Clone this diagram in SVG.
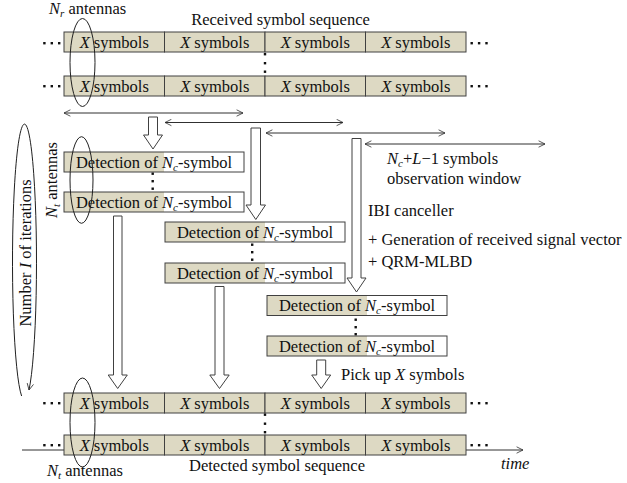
<svg xmlns="http://www.w3.org/2000/svg" width="627" height="483" viewBox="0 0 627 483">
<style>
text{font-family:"Liberation Serif","Times New Roman",serif;font-size:16.5px;fill:#111}
.it{font-style:italic}
.sub{font-size:11px;font-style:italic}
.cell{fill:#DDD9C3;stroke:#404040;stroke-width:1}
.wbox{fill:#fff;stroke:none}
.tan{fill:#DDD9C3;stroke:none}
.brd{fill:none;stroke:#404040;stroke-width:1}
.blk{fill:#fff;stroke:#404040;stroke-width:1}
.thin{fill:none;stroke:#303030;stroke-width:1}
.dot{fill:#111}
.ell{fill:none;stroke:#202020;stroke-width:1}
</style>
<defs>
<marker id="ah" viewBox="0 0 10 10" refX="9" refY="5" markerWidth="8" markerHeight="8" orient="auto-start-reverse" markerUnits="userSpaceOnUse">
<path d="M1,1 L9,5 L1,9" fill="none" stroke="#303030" stroke-width="1"/>
</marker>
</defs>

<g id="time-axis">
<line class="thin" x1="22" y1="450" x2="523" y2="450" marker-end="url(#ah)"/>
<text class="it" x="501" y="469">time</text>
</g>

<g id="received-sequence">
<text x="280.5" y="24.5" text-anchor="middle">Received symbol sequence</text>
<g id="rx-row1">
<rect class="cell" x="64" y="32" width="100.5" height="20"/>
<rect class="cell" x="164.5" y="32" width="100.5" height="20"/>
<rect class="cell" x="265" y="32" width="100.5" height="20"/>
<rect class="cell" x="365.5" y="32" width="100.5" height="20"/>
<text x="114.25" y="47.5" text-anchor="middle"><tspan class="it">X</tspan> symbols</text>
<text x="214.75" y="47.5" text-anchor="middle"><tspan class="it">X</tspan> symbols</text>
<text x="315.25" y="47.5" text-anchor="middle"><tspan class="it">X</tspan> symbols</text>
<text x="415.75" y="47.5" text-anchor="middle"><tspan class="it">X</tspan> symbols</text>
</g>
<g id="rx-row2">
<rect class="cell" x="64" y="76" width="100.5" height="20"/>
<rect class="cell" x="164.5" y="76" width="100.5" height="20"/>
<rect class="cell" x="265" y="76" width="100.5" height="20"/>
<rect class="cell" x="365.5" y="76" width="100.5" height="20"/>
<text x="114.25" y="91.5" text-anchor="middle"><tspan class="it">X</tspan> symbols</text>
<text x="214.75" y="91.5" text-anchor="middle"><tspan class="it">X</tspan> symbols</text>
<text x="315.25" y="91.5" text-anchor="middle"><tspan class="it">X</tspan> symbols</text>
<text x="415.75" y="91.5" text-anchor="middle"><tspan class="it">X</tspan> symbols</text>
</g>
<g id="rx-dots">
<rect class="dot" x="43.2" y="42" width="2.4" height="2.4"/><rect class="dot" x="50.6" y="42" width="2.4" height="2.4"/><rect class="dot" x="58" y="42" width="2.4" height="2.4"/>
<rect class="dot" x="43.2" y="85" width="2.4" height="2.4"/><rect class="dot" x="50.6" y="85" width="2.4" height="2.4"/><rect class="dot" x="58" y="85" width="2.4" height="2.4"/>
<rect class="dot" x="470.5" y="42" width="2.4" height="2.4"/><rect class="dot" x="477.9" y="42" width="2.4" height="2.4"/><rect class="dot" x="485.3" y="42" width="2.4" height="2.4"/>
<rect class="dot" x="470.5" y="85" width="2.4" height="2.4"/><rect class="dot" x="477.9" y="85" width="2.4" height="2.4"/><rect class="dot" x="485.3" y="85" width="2.4" height="2.4"/>
<rect class="dot" x="263.8" y="53" width="2.4" height="2.4"/><rect class="dot" x="263.8" y="62" width="2.4" height="2.4"/><rect class="dot" x="263.8" y="70.5" width="2.4" height="2.4"/>
</g>
<ellipse class="ell" cx="82.5" cy="62.5" rx="12.5" ry="44"/>
<text x="49" y="14"><tspan class="it">N</tspan><tspan class="sub" dy="3">r</tspan><tspan dy="-3"> antennas</tspan></text>
</g>

<g id="detected-sequence">
<g id="tx-row1">
<rect class="cell" x="64" y="393" width="100.5" height="20"/>
<rect class="cell" x="164.5" y="393" width="100.5" height="20"/>
<rect class="cell" x="265" y="393" width="100.5" height="20"/>
<rect class="cell" x="365.5" y="393" width="100.5" height="20"/>
<text x="114.25" y="408.5" text-anchor="middle"><tspan class="it">X</tspan> symbols</text>
<text x="214.75" y="408.5" text-anchor="middle"><tspan class="it">X</tspan> symbols</text>
<text x="315.25" y="408.5" text-anchor="middle"><tspan class="it">X</tspan> symbols</text>
<text x="415.75" y="408.5" text-anchor="middle"><tspan class="it">X</tspan> symbols</text>
</g>
<g id="tx-row2">
<rect class="cell" x="64" y="435" width="100.5" height="20"/>
<rect class="cell" x="164.5" y="435" width="100.5" height="20"/>
<rect class="cell" x="265" y="435" width="100.5" height="20"/>
<rect class="cell" x="365.5" y="435" width="100.5" height="20"/>
<text x="114.25" y="450.5" text-anchor="middle"><tspan class="it">X</tspan> symbols</text>
<text x="214.75" y="450.5" text-anchor="middle"><tspan class="it">X</tspan> symbols</text>
<text x="315.25" y="450.5" text-anchor="middle"><tspan class="it">X</tspan> symbols</text>
<text x="415.75" y="450.5" text-anchor="middle"><tspan class="it">X</tspan> symbols</text>
</g>
<g id="tx-dots">
<rect class="dot" x="43.2" y="402" width="2.4" height="2.4"/><rect class="dot" x="50.6" y="402" width="2.4" height="2.4"/><rect class="dot" x="58" y="402" width="2.4" height="2.4"/>
<rect class="dot" x="43.2" y="444" width="2.4" height="2.4"/><rect class="dot" x="50.6" y="444" width="2.4" height="2.4"/><rect class="dot" x="58" y="444" width="2.4" height="2.4"/>
<rect class="dot" x="470.5" y="402" width="2.4" height="2.4"/><rect class="dot" x="477.9" y="402" width="2.4" height="2.4"/><rect class="dot" x="485.3" y="402" width="2.4" height="2.4"/>
<rect class="dot" x="470.5" y="444" width="2.4" height="2.4"/><rect class="dot" x="477.9" y="444" width="2.4" height="2.4"/><rect class="dot" x="485.3" y="444" width="2.4" height="2.4"/>
<rect class="dot" x="263.8" y="413.5" width="2.4" height="2.4"/><rect class="dot" x="263.8" y="422.5" width="2.4" height="2.4"/><rect class="dot" x="263.8" y="431" width="2.4" height="2.4"/>
</g>
<ellipse class="ell" cx="82.5" cy="422.5" rx="12.5" ry="44.5"/>
<text x="277" y="471" text-anchor="middle">Detected symbol sequence</text>
<text x="47" y="476"><tspan class="it">N</tspan><tspan class="sub" dy="3">t</tspan><tspan dy="-3"> antennas</tspan></text>
</g>

<g id="stage1">
<rect class="wbox" x="64" y="152" width="180" height="20"/><rect class="tan" x="64" y="152" width="100" height="20"/><rect class="brd" x="64" y="152" width="180" height="20"/>
<text x="154" y="167.5" text-anchor="middle">Detection of <tspan class="it">N</tspan><tspan class="sub" dy="3">c</tspan><tspan dy="-3">-symbol</tspan></text>
<rect class="wbox" x="64" y="192" width="180" height="20"/><rect class="tan" x="64" y="192" width="100" height="20"/><rect class="brd" x="64" y="192" width="180" height="20"/>
<text x="154" y="207.5" text-anchor="middle">Detection of <tspan class="it">N</tspan><tspan class="sub" dy="3">c</tspan><tspan dy="-3">-symbol</tspan></text>
<rect class="dot" x="151.5" y="172.5" width="2.4" height="2.4"/><rect class="dot" x="151.5" y="180" width="2.4" height="2.4"/><rect class="dot" x="151.5" y="187.5" width="2.4" height="2.4"/>
<ellipse class="ell" cx="81.5" cy="180" rx="11.5" ry="43.3"/>
<text transform="translate(57,180) rotate(-90)" text-anchor="middle"><tspan class="it">N</tspan><tspan class="sub" dy="3">t</tspan><tspan dy="-3"> antennas</tspan></text>
</g>

<g id="stage2">
<rect class="wbox" x="165" y="222" width="180" height="20"/><rect class="tan" x="165" y="222" width="100" height="20"/><rect class="brd" x="165" y="222" width="180" height="20"/>
<text x="255" y="237.5" text-anchor="middle">Detection of <tspan class="it">N</tspan><tspan class="sub" dy="3">c</tspan><tspan dy="-3">-symbol</tspan></text>
<rect class="wbox" x="165" y="263" width="180" height="20"/><rect class="tan" x="165" y="263" width="100" height="20"/><rect class="brd" x="165" y="263" width="180" height="20"/>
<text x="255" y="278.5" text-anchor="middle">Detection of <tspan class="it">N</tspan><tspan class="sub" dy="3">c</tspan><tspan dy="-3">-symbol</tspan></text>
<rect class="dot" x="251" y="243.5" width="2.4" height="2.4"/><rect class="dot" x="251" y="251" width="2.4" height="2.4"/><rect class="dot" x="251" y="258.5" width="2.4" height="2.4"/>
</g>

<g id="stage3">
<rect class="wbox" x="267" y="295.5" width="180" height="20"/><rect class="tan" x="267" y="295.5" width="100" height="20"/><rect class="brd" x="267" y="295.5" width="180" height="20"/>
<text x="357" y="311" text-anchor="middle">Detection of <tspan class="it">N</tspan><tspan class="sub" dy="3">c</tspan><tspan dy="-3">-symbol</tspan></text>
<rect class="wbox" x="267" y="336" width="180" height="20"/><rect class="tan" x="267" y="336" width="100" height="20"/><rect class="brd" x="267" y="336" width="180" height="20"/>
<text x="357" y="351.5" text-anchor="middle">Detection of <tspan class="it">N</tspan><tspan class="sub" dy="3">c</tspan><tspan dy="-3">-symbol</tspan></text>
<rect class="dot" x="354.5" y="318.5" width="2.4" height="2.4"/><rect class="dot" x="354.5" y="326" width="2.4" height="2.4"/><rect class="dot" x="354.5" y="333" width="2.4" height="2.4"/>
</g>

<g id="labels">
<text x="387" y="164"><tspan class="it">N</tspan><tspan class="sub" dy="3">c</tspan><tspan dy="-3">+</tspan><tspan class="it">L</tspan>−1 symbols</text>
<text x="387" y="183.5">observation window</text>
<text x="368" y="216">IBI canceller</text>
<text x="368" y="245">+ Generation of received signal vector</text>
<text x="368" y="267">+ QRM-MLBD</text>
<text x="341" y="380">Pick up <tspan class="it">X</tspan> symbols</text>
</g>

<g id="iterations">
<path class="ell" d="M21.6,396 A12,138 0 1 1 29,390" marker-end="url(#ah)"/>
<text transform="translate(31,253) rotate(-90)" text-anchor="middle">Number <tspan class="it">I</tspan> of iterations</text>
</g>

<g id="connectors">
<line class="thin" x1="64" y1="113" x2="243" y2="113" marker-start="url(#ah)" marker-end="url(#ah)"/>
<line class="thin" x1="165" y1="122.5" x2="343" y2="122.5" marker-start="url(#ah)" marker-end="url(#ah)"/>
<line class="thin" x1="266" y1="133" x2="445" y2="133" marker-start="url(#ah)" marker-end="url(#ah)"/>
<line class="thin" x1="365" y1="144" x2="545" y2="144" marker-start="url(#ah)" marker-end="url(#ah)"/>
<path class="blk" d="M148.5,117 H157.5 V135 H162.5 L153,149 L143.5,135 H148.5 Z"/>
<path class="blk" d="M251,128 H260.5 V205 H265.5 L255.8,219.5 L246,205 H251 Z"/>
<path class="blk" d="M352,138.5 H361 V278 H366 L356.5,292 L347,278 H352 Z"/>
<path class="blk" d="M113.5,216 H122 V375 H127.3 L117.7,388.5 L108.2,375 H113.5 Z"/>
<path class="blk" d="M215,286.5 H224 V375 H229.2 L219.5,388.5 L209.8,375 H215 Z"/>
<path class="blk" d="M316.7,360 H325.7 V375 H330.7 L321.2,388.5 L311.7,375 H316.7 Z"/>
</g>
</svg>
